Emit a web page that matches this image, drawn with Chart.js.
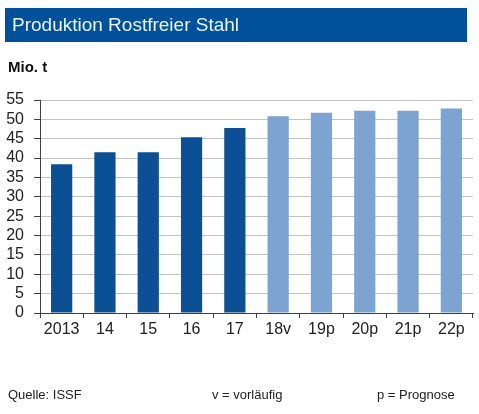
<!DOCTYPE html>
<html>
<head>
<meta charset="utf-8">
<script src="https://cdn.jsdelivr.net/npm/chart.js@4"></script>
<style>
  html, body { margin: 0; padding: 0; background: #fff; }
  body { width: 479px; height: 414px; position: relative; overflow: hidden; font-family: "Liberation Sans", Arial, sans-serif; }
  #header { position: absolute; left: 5px; top: 8px; width: 462px; height: 34px; background: #00519B; }
  #header span { position: absolute; left: 7px; top: 6px; font-size: 19px; color: #EAF2FA; white-space: nowrap; }
  #unit { position: absolute; left: 8px; top: 58px; font-size: 15px; font-weight: bold; color: #111; }
  #wrap { position: absolute; left: 0; top: 0; width: 479px; height: 414px; }
  .foot { position: absolute; top: 387px; font-size: 13px; color: #222; white-space: nowrap; }
</style>
</head>
<body>
<div id="wrap"><canvas id="c" width="479" height="414"></canvas></div>
<div id="header"><span>Produktion Rostfreier Stahl</span></div>
<div id="unit">Mio. t</div>
<div class="foot" style="left:8px">Quelle: ISSF</div>
<div class="foot" style="left:212px">v = vorläufig</div>
<div class="foot" style="left:377px">p = Prognose</div>
<script>
const categories = ["2013", "14", "15", "16", "17", "18v", "19p", "20p", "21p", "22p"];
const production = [38.4, 41.5, 41.5, 45.4, 47.8, 50.8, 51.7, 52.2, 52.2, 52.8];
const actualCount = 5;
const yTicks = [0, 5, 10, 15, 20, 25, 30, 35, 40, 45, 50, 55];

const DARK = "#0B4F94";
const LIGHT = "#7DA3D1";
const FONT = "'Liberation Sans', Arial, sans-serif";

new Chart(document.getElementById("c"), {
  type: "bar",
  data: {
    labels: categories,
    datasets: [{
      data: production,
      backgroundColor: (ctx) => ctx.dataIndex < actualCount ? DARK : LIGHT,
      borderWidth: 0,
      barPercentage: 0.49,
      categoryPercentage: 1.0
    }]
  },
  options: {
    responsive: false,
    animation: false,
    devicePixelRatio: 1,
    layout: { padding: { top: 100, right: 6, left: 0, bottom: 0 } },
    plugins: { legend: { display: false }, tooltip: { enabled: false }, title: { display: false } },
    scales: {
      x: {
        afterFit: (s) => { s.height = 101; },
        grid: { offset: true, drawOnChartArea: false, drawTicks: true, tickLength: 5, tickColor: "#404040", lineWidth: 1 },
        border: { color: "#404040", width: 1 },
        ticks: { color: "#222", font: { family: FONT, size: 16 }, padding: 2, maxRotation: 0, autoSkip: false }
      },
      y: {
        min: yTicks[0],
        max: yTicks[yTicks.length - 1],
        afterFit: (s) => { s.width = 40; },
        afterBuildTicks: (s) => { s.ticks = yTicks.map(v => ({ value: v })); },
        grid: { color: "#C4C4C4", lineWidth: 1, drawTicks: true, tickLength: 6, tickColor: "#404040" },
        border: { color: "#404040", width: 1 },
        ticks: { color: "#222", font: { family: FONT, size: 16 }, padding: 10, autoSkip: false, stepSize: 5 }
      }
    }
  }
});
</script>
</body>
</html>
